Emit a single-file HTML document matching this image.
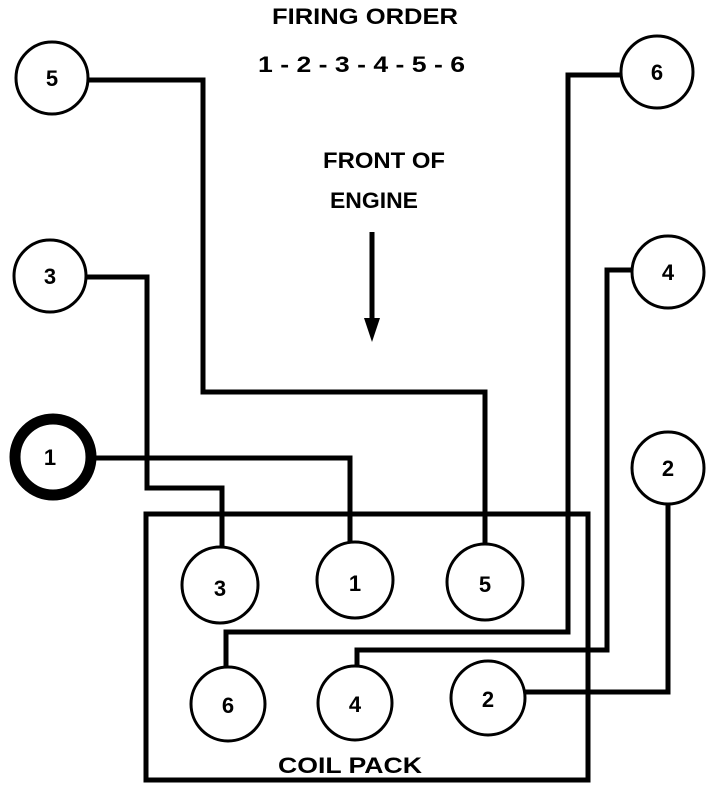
<!DOCTYPE html>
<html><head><style>body{margin:0;background:#fff}svg{display:block}</style></head>
<body>
<svg width="720" height="790" viewBox="0 0 720 790" xmlns="http://www.w3.org/2000/svg" font-family="Liberation Sans, Arial, sans-serif" font-weight="bold">
<rect width="720" height="790" fill="#fff"/>
<g fill="none" stroke="#000" stroke-width="5" stroke-linejoin="miter">
<rect x="146" y="514" width="442" height="266"/>
<polyline points="87,80 203,80 203,392 485,392 485,545"/>
<polyline points="85,277 147,277 147,488 222,488 222,547"/>
<polyline points="95,458 350,458 350,543"/>
<polyline points="622,75 568,75 568,632 226,632 226,667"/>
<polyline points="633,270 607,270 607,650 357,650 357,666"/>
<polyline points="668,503 668,692 525,692"/>
<line x1="372" y1="232" x2="372" y2="322"/>
</g>
<polygon points="364,318 380,318 372,342" fill="#000"/>
<g fill="#fff" stroke="#000" stroke-width="3">
<circle cx="52" cy="78" r="36"/>
<circle cx="50" cy="276" r="36"/>
<circle cx="657" cy="72" r="36"/>
<circle cx="668" cy="272" r="36"/>
<circle cx="668" cy="468" r="36"/>
<circle cx="220" cy="585" r="38"/>
<circle cx="355" cy="580" r="38"/>
<circle cx="485" cy="582" r="38"/>
<circle cx="228" cy="704" r="37"/>
<circle cx="355" cy="703" r="37"/>
<circle cx="488" cy="698" r="37"/>
<circle cx="53" cy="457" r="38" stroke-width="11"/>
</g>
<g font-size="22" text-anchor="middle">
<text x="52" y="86">5</text>
<text x="50" y="284">3</text>
<text x="50" y="465">1</text>
<text x="657" y="80">6</text>
<text x="668" y="280">4</text>
<text x="668" y="476">2</text>
<text x="220" y="596">3</text>
<text x="355" y="591">1</text>
<text x="485" y="592">5</text>
<text x="228" y="713">6</text>
<text x="355" y="712">4</text>
<text x="488" y="707">2</text>
</g>
<g font-size="22">
<text x="272" y="24" textLength="186" lengthAdjust="spacingAndGlyphs">FIRING ORDER</text>
<text x="258" y="72" textLength="207" lengthAdjust="spacingAndGlyphs">1 - 2 - 3 - 4 - 5 - 6</text>
<text x="323" y="168" textLength="122" lengthAdjust="spacingAndGlyphs">FRONT OF</text>
<text x="330" y="208" textLength="88" lengthAdjust="spacingAndGlyphs">ENGINE</text>
<text x="278" y="773" textLength="144" lengthAdjust="spacingAndGlyphs">COIL PACK</text>
</g>
</svg>
</body></html>
